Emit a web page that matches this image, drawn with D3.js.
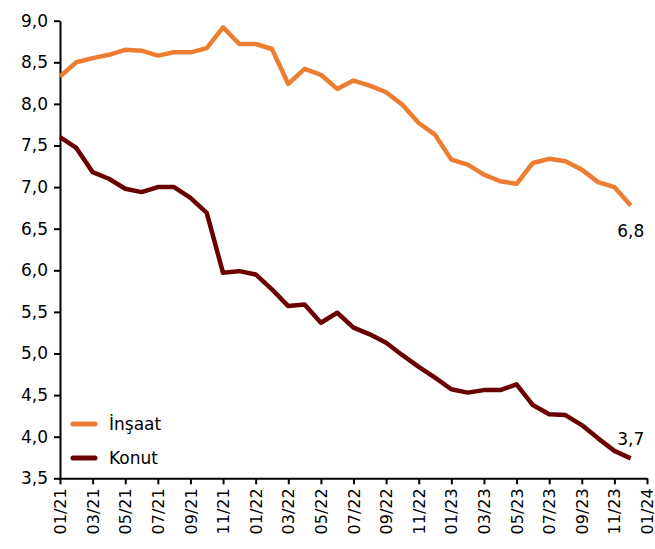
<!DOCTYPE html>
<html>
<head>
<meta charset="utf-8">
<script src="https://cdn.jsdelivr.net/npm/d3@7"></script>
<style>
  html, body { margin: 0; padding: 0; background: #fff; }
  svg { display: block; }
  text { font-family: "DejaVu Sans", sans-serif; fill: #000; }
</style>
</head>
<body>
<svg id="chart" width="655" height="549"></svg>
<script>
// Monthly observations, 01/21 .. 12/23
const startYear = 2021;
const insaat = [8.33, 8.50, 8.55, 8.59, 8.65, 8.64, 8.58, 8.62, 8.62, 8.67, 8.92, 8.72,
                8.72, 8.66, 8.24, 8.42, 8.35, 8.18, 8.28, 8.22, 8.14, 7.99, 7.77, 7.63,
                7.33, 7.27, 7.15, 7.07, 7.04, 7.29, 7.34, 7.31, 7.21, 7.06, 7.00, 6.78];
const konut  = [7.60, 7.47, 7.18, 7.10, 6.98, 6.94, 7.00, 7.00, 6.87, 6.69, 5.97, 5.99,
                5.95, 5.77, 5.57, 5.59, 5.37, 5.49, 5.31, 5.23, 5.13, 4.98, 4.84, 4.71,
                4.57, 4.53, 4.56, 4.56, 4.63, 4.38, 4.27, 4.26, 4.14, 3.98, 3.83, 3.74];
const seriesNames = ["İnşaat", "Konut"];
const seriesColors = ["#ED7D31", "#6B0000"];
const yTicks = [3.5, 4.0, 4.5, 5.0, 5.5, 6.0, 6.5, 7.0, 7.5, 8.0, 8.5, 9.0];
const xTickLabels = ["01/21","03/21","05/21","07/21","09/21","11/21","01/22","03/22","05/22",
                     "07/22","09/22","11/22","01/23","03/23","05/23","07/23","09/23","11/23","01/24"];
const endLabels = ["6,8", "3,7"];

const svg = d3.select("#chart");
const m = {left: 60, right: 8, top: 20.7, bottom: 70.7};
const W = 655, H = 549;

const x = d3.scaleLinear().domain([0, 36]).range([m.left, W - m.right]);
const y = d3.scaleLinear().domain([3.5, 9.0]).range([H - m.bottom, m.top]);

const fmt = v => d3.format(".1f")(v).replace(".", ",");

// Y axis
const yAxis = svg.append("g")
  .attr("transform", `translate(${m.left},0)`)
  .call(d3.axisLeft(y).tickValues(yTicks).tickFormat(fmt).tickSize(6).tickPadding(6).tickSizeOuter(0));
yAxis.selectAll("text").style("font-size", "17px");

// X axis
const xTickPos = xTickLabels.map((d, i) => i * 2);
const xAxis = svg.append("g")
  .attr("transform", `translate(0,${H - m.bottom})`)
  .call(d3.axisBottom(x).tickValues(xTickPos).tickFormat((d, i) => xTickLabels[i]).tickSize(6).tickSizeOuter(0));
xAxis.selectAll("text")
  .style("font-size", "16px")
  .attr("transform", "rotate(-90)")
  .attr("text-anchor", "end")
  .attr("x", -10)
  .attr("y", 0)
  .attr("dy", "0.35em");

svg.selectAll(".domain, .tick line").attr("stroke", "#000").attr("stroke-width", 2);

// Lines
const line = d3.line().x((d, i) => x(i)).y(d => y(d));
[insaat, konut].forEach((s, k) => {
  svg.append("path")
    .datum(s)
    .attr("fill", "none")
    .attr("stroke", seriesColors[k])
    .attr("stroke-width", 4.5)
    .attr("stroke-linejoin", "round")
    .attr("d", line);
});

// End labels
const last = insaat.length - 1;
svg.append("text").attr("x", x(last)).attr("y", y(insaat[last]) + 32)
  .attr("text-anchor", "middle").style("font-size", "17px").text(endLabels[0]);
svg.append("text").attr("x", x(last)).attr("y", y(konut[last]) - 13)
  .attr("text-anchor", "middle").style("font-size", "17px").text(endLabels[1]);

// Legend
const legend = svg.append("g");
seriesNames.forEach((n, k) => {
  const ly = 424 + k * 34;
  legend.append("line").attr("x1", 73).attr("x2", 95).attr("y1", ly).attr("y2", ly)
    .attr("stroke", seriesColors[k]).attr("stroke-width", 5).attr("stroke-linecap", "round");
  legend.append("text").attr("x", 109).attr("y", ly).attr("dy", "0.35em")
    .style("font-size", "17px").text(n);
});
</script>
</body>
</html>
